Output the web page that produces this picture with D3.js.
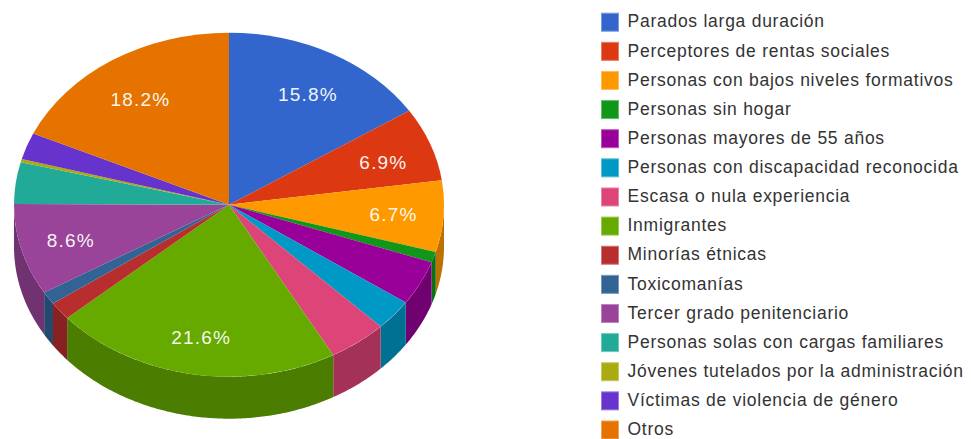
<!DOCTYPE html>
<html><head><meta charset="utf-8">
<script src="https://cdn.jsdelivr.net/npm/d3@7/dist/d3.min.js"></script>
<style>html,body{margin:0;padding:0;background:#fff}svg{display:block}</style></head>
<body><svg id="c" width="971" height="439"></svg>
<script>
const categories = ["Parados larga duración","Perceptores de rentas sociales","Personas con bajos niveles formativos","Personas sin hogar","Personas mayores de 55 años","Personas con discapacidad reconocida","Escasa o nula experiencia","Inmigrantes","Minorías étnicas","Toxicomanías","Tercer grado penitenciario","Personas solas con cargas familiares","Jóvenes tutelados por la administración","Víctimas de violencia de género","Otros"];
const values = [15.8,6.9,6.7,1.0,4.2,2.9,4.4,21.6,1.7,1.2,8.6,3.9,0.3,2.5,18.2];
const colors = ["#3366cc","#dc3912","#ff9900","#109618","#990099","#0099c6","#dd4477","#66aa00","#b82e2e","#316395","#994499","#22aa99","#aaaa11","#6633cc","#e67300"];
const labelMin = 6;

const cx=229, cy=204.7, rx=215, ry=172, depth=42;
const svg=d3.select("#c");
const arcs=d3.pie().sort(null).value(d=>d)(values);
const px=a=>cx+rx*Math.sin(a), py=a=>cy-ry*Math.cos(a);
const darker=c=>{const r=d3.rgb(c);return d3.rgb(r.r*.74,r.g*.74,r.b*.74).formatHex();};

// side wall: front half of the rim only
const walls=svg.append("g");
arcs.forEach((d,i)=>{
  const a0=Math.max(d.startAngle,Math.PI/2), a1=Math.min(d.endAngle,Math.PI*1.5);
  if(a1<=a0) return;
  const p=d3.path();
  p.moveTo(px(a0),py(a0));
  const n=Math.ceil((a1-a0)/0.01);
  for(let k=1;k<=n;k++){const a=a0+(a1-a0)*k/n;p.lineTo(px(a),py(a));}
  for(let k=n;k>=0;k--){const a=a0+(a1-a0)*k/n;p.lineTo(px(a),py(a)+depth);}
  p.closePath();
  walls.append("path").attr("d",p.toString()).attr("fill",darker(colors[i]));
});

// top face: circular arcs squashed into an ellipse
const arc=d3.arc().innerRadius(0).outerRadius(rx);
const face=svg.append("g").attr("transform",`translate(${cx},${cy}) scale(1,${ry/rx})`);
face.selectAll("path").data(arcs).join("path").attr("d",arc).attr("fill",(d,i)=>colors[i]);

// slice labels
const font="'Liberation Sans',Arial,sans-serif";
const mid=d=>(d.startAngle+d.endAngle)/2;
svg.append("g").selectAll("text").data(arcs.filter(d=>d.value>labelMin)).join("text")
  .attr("x",d=>cx+rx*.765*Math.sin(mid(d))+.5)
  .attr("y",d=>{const c=-Math.cos(mid(d));return (c<0?cy+1.8+129*c:cy-.4+134*c)+7.5;})
  .attr("text-anchor","middle").attr("fill","#fff").attr("fill-opacity",.94)
  .attr("font-family",font).attr("font-size",19).attr("letter-spacing",1.2)
  .text(d=>d.value.toFixed(1)+"%");

// legend
const yScale=d3.scalePoint().domain(categories).range([22.2,430]);
const leg=svg.append("g").selectAll("g").data(categories).join("g")
  .attr("transform",d=>`translate(0,${yScale(d)})`);
leg.append("rect").attr("x",601.5).attr("y",-9).attr("width",17).attr("height",18)
  .attr("fill",(d,i)=>colors[i]).attr("stroke",(d,i)=>d3.interpolateRgb(colors[i],"#fff")(.35)).attr("stroke-width",1);
leg.append("text").attr("x",627.5).attr("y",5.2).attr("fill","#333")
  .attr("font-family",font).attr("font-size",17.5).attr("letter-spacing",0.74)
  .text(d=>d);
</script></body></html>
